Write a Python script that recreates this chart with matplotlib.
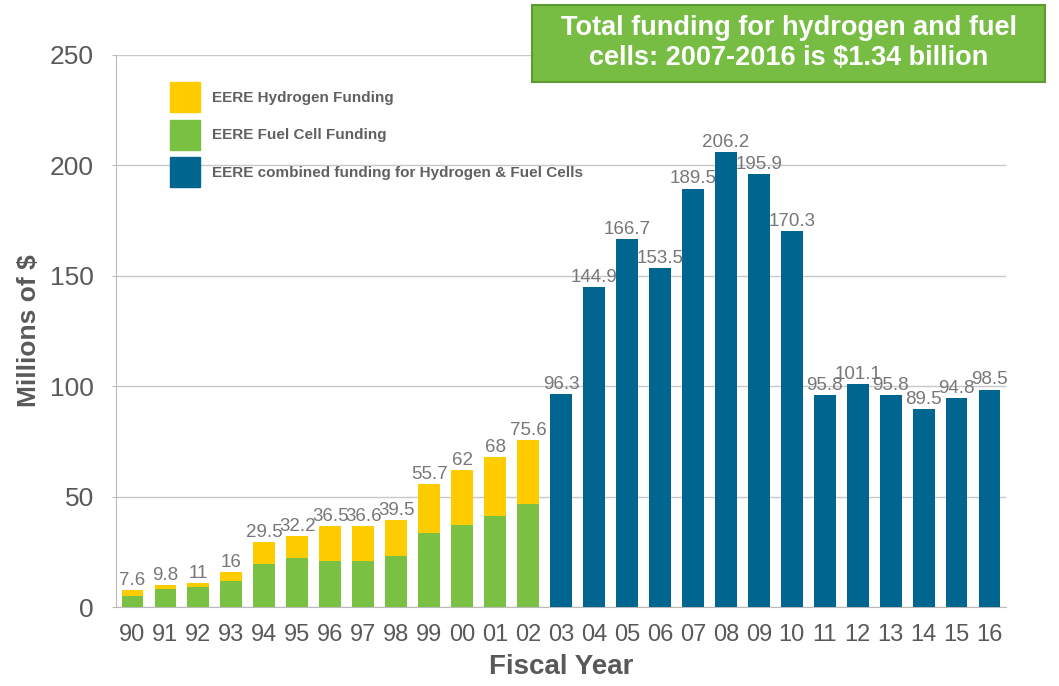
import matplotlib
matplotlib.use("Agg")
import matplotlib.pyplot as plt
import numpy as np
from matplotlib.patches import Patch, Rectangle

years = ['90', '91', '92', '93', '94', '95', '96', '97', '98', '99', '00', '01', '02',
         '03', '04', '05', '06', '07', '08', '09', '10', '11', '12', '13', '14', '15', '16']
# 1990-2002: separate hydrogen / fuel cell split
fuel_cell = [5, 8, 9, 12, 19.5, 22.2, 21.1, 21.1, 23.2, 33.7, 37, 41.4, 46.6]
totals_early = [7.6, 9.8, 11, 16, 29.5, 32.2, 36.5, 36.6, 39.5, 55.7, 62, 68, 75.6]
# 2003-2016: combined funding
combined = [96.3, 144.9, 166.7, 153.5, 189.5, 206.2, 195.9, 170.3, 95.8, 101.1, 95.8, 89.5, 94.8, 98.5]

c_h2 = '#FFCC00'
c_fc = '#7AC143'
c_comb = '#00668F'
txt = '#595959'

plt.rcParams['font.family'] = ['Liberation Sans', 'DejaVu Sans']

fig = plt.figure(figsize=(10.59, 6.86), dpi=100)
ax = fig.add_axes([0.1095, 0.115, 0.8405, 0.805])

n_early = len(totals_early)
x_early = np.arange(n_early)
x_comb = np.arange(n_early, len(years))
hydrogen = [t - f for t, f in zip(totals_early, fuel_cell)]
w = 0.66

ax.bar(x_early, fuel_cell, width=w, color=c_fc, zorder=3)
ax.bar(x_early, hydrogen, width=w, bottom=fuel_cell, color=c_h2, zorder=3)
ax.bar(x_comb, combined, width=w, color=c_comb, zorder=3)

for x, v in zip(list(x_early) + list(x_comb), totals_early + combined):
    ax.text(x, v + 0.5, '%g' % v, ha='center', va='bottom', fontsize=13.5, color='#777777', zorder=4)

ax.set_xlim(-0.5, len(years) - 0.5)
ax.set_ylim(0, 250)
ax.set_yticks(range(0, 251, 50))
ax.set_xticks(range(len(years)))
ax.set_xticklabels(years)
ax.tick_params(axis='x', labelsize=17, colors=txt, length=0, pad=12)
ax.tick_params(axis='y', labelsize=19, colors=txt, length=3, color='#BBBBBB', pad=13)
ax.grid(axis='y', color='#C8C8C8', linewidth=1, zorder=0)
for s in ['top', 'right']:
    ax.spines[s].set_visible(False)
for s in ['left', 'bottom']:
    ax.spines[s].set_color('#BBBBBB')

ax.set_ylabel('Millions of $', fontsize=19, fontweight='bold', color=txt, labelpad=6)
ax.set_xlabel('Fiscal Year', fontsize=20, fontweight='bold', color=txt, labelpad=6)

handles = [Patch(color=c_h2, label='EERE Hydrogen Funding'),
           Patch(color=c_fc, label='EERE Fuel Cell Funding'),
           Patch(color=c_comb, label='EERE combined funding for Hydrogen & Fuel Cells')]
leg = ax.legend(handles=handles, loc='upper left', bbox_to_anchor=(0.045, 0.975), frameon=False,
                fontsize=11, handlelength=1.96, handleheight=2.64, labelspacing=0.49,
                handletextpad=0.8, labelcolor='#606060')
for t in leg.get_texts():
    t.set_fontweight('bold')

# callout box
fig.patches.append(Rectangle((0.5024, 0.8805), 0.4844, 0.1122, transform=fig.transFigure,
                             facecolor='#77BC43', edgecolor='#5E9A32', linewidth=1.5, zorder=5))
fig.text(0.7446, 0.9366, 'Total funding for hydrogen and fuel\ncells: 2007-2016 is $1.34 billion',
         ha='center', va='center', fontsize=19.5, fontweight='bold', color='white', linespacing=1.2,
         zorder=6)

plt.savefig('out.png', dpi=100)
